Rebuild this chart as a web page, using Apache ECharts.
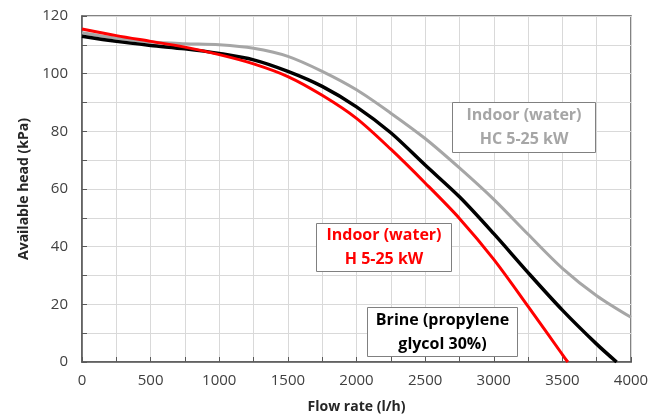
<!DOCTYPE html>
<html><head><meta charset="utf-8">
<script src="https://cdn.jsdelivr.net/npm/echarts@6/dist/echarts.min.js"></script>
<style>html,body{margin:0;padding:0;background:#fff}#c{width:665px;height:419px}</style>
</head><body><div id="c"></div>
<script>
const redFlow   = [0,250,500,750,1000,1250,1500,1750,2000,2250,2500,2750,3000,3250,3500,3540];
const redHead   = [115.5,113.2,111.2,109.2,106.6,103.4,99,92.5,84.5,73.8,62.1,49.8,35.6,19.3,2.6,0];
const blackFlow = [0,250,500,750,1000,1250,1500,1750,2000,2250,2500,2750,3000,3250,3500,3750,3895];
const blackHead = [113,111.2,109.8,108.6,107,104.8,100.8,95.6,88.5,79.5,68.3,57.3,44.5,31,18,6.2,0];
const grayFlow  = [0,250,500,750,1000,1250,1500,1750,2000,2250,2500,2750,3000,3250,3500,3750,4000];
const grayHead  = [114.2,112.3,111,110.4,110,108.8,106,100.8,94.4,86.3,77.5,67.3,56.4,44.3,32.5,23,15.5];
const labels = {
  gray: ['Indoor (water)', 'HC 5-25 kW'],
  red: ['Indoor (water)', 'H 5-25 kW'],
  black: ['Brine (propylene', 'glycol 30%)']
};
const pair = (xs, ys) => xs.map((x, i) => [x, ys[i]]);
const F = 'Open Sans';
const chart = echarts.init(document.getElementById('c'), null, {renderer: 'canvas'});
const axisCommon = {
  axisLine: {show: true, lineStyle: {color: '#595959', width: 1.5}},
  axisTick: {show: true, inside: true, length: 5, lineStyle: {color: '#595959'}},
  minorTick: {show: true, splitNumber: 2, length: 5, lineStyle: {color: '#595959'}},
  splitLine: {show: true, lineStyle: {color: '#d9d9d9', width: 1}},
  minorSplitLine: {show: true, lineStyle: {color: '#d9d9d9', width: 1}},
  axisLabel: {color: '#404040', fontSize: 15, fontFamily: F, formatter: v => String(v)},
  nameTextStyle: {color: '#262626', fontSize: 14, fontWeight: 'bold', fontFamily: F}
};
function box(left, top, w, h, lines, color, border) {
  return {
    type: 'group', left: left, top: top, z: 100,
    children: [
      {type: 'rect', z: 100, shape: {x: 0, y: 0, width: w, height: h},
       style: {fill: '#fff', stroke: border, lineWidth: 1}},
      {type: 'text', z: 101, x: w / 2, y: h / 2,
       style: {text: lines.join('\n'), fill: color, fontSize: 16, fontWeight: 'bold', fontFamily: F,
               align: 'center', verticalAlign: 'middle', lineHeight: 24}}
    ]
  };
}
chart.setOption({
  animation: false,
  grid: {left: 82, right: 34, top: 16, bottom: 56, show: true, borderColor: '#595959', borderWidth: 1.5},
  xAxis: Object.assign({}, axisCommon, {
    type: 'value', min: 0, max: 4000, interval: 500,
    name: 'Flow rate (l/h)', nameLocation: 'middle', nameGap: 38,
    axisLabel: Object.assign({}, axisCommon.axisLabel, {margin: 11})
  }),
  yAxis: Object.assign({}, axisCommon, {
    type: 'value', min: 0, max: 120, interval: 20,
    name: 'Available head (kPa)', nameLocation: 'middle', nameGap: 47,
    axisLabel: Object.assign({}, axisCommon.axisLabel, {margin: 14})
  }),
  series: [
    {type: 'line', data: pair(grayFlow, grayHead), smooth: 0.3, showSymbol: false,
     lineStyle: {color: '#a6a6a6', width: 3}},
    {type: 'line', data: pair(blackFlow, blackHead), smooth: 0.3, showSymbol: false,
     lineStyle: {color: '#000000', width: 3.5}},
    {type: 'line', data: pair(redFlow, redHead), smooth: 0.3, showSymbol: false,
     lineStyle: {color: '#ff0000', width: 3}}
  ],
  graphic: [
    box(452, 102, 143, 50, labels.gray, '#a6a6a6', '#808080'),
    box(316, 223, 135, 48, labels.red, '#ff0000', '#808080'),
    box(367, 307, 150, 49, labels.black, '#000000', '#808080')
  ]
});
</script></body></html>
